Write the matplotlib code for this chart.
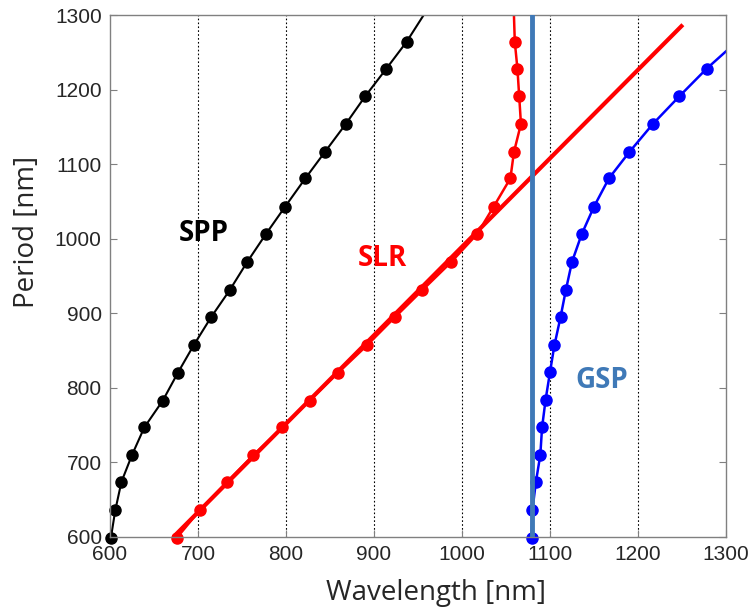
import matplotlib
matplotlib.use("Agg")
import matplotlib.pyplot as plt

# SPP branch (black); last point only extends the line to the top edge
spp_wl = [601, 606, 613, 625, 639, 660, 677, 695, 715, 736, 756, 777, 799, 822, 844, 868, 890, 914, 937, 957]
spp_p = [599, 636, 674, 710, 747, 783, 820, 857, 895, 931, 969, 1006, 1043, 1081, 1116, 1154, 1191, 1228, 1264, 1301]

# SLR branch (red, with markers)
slr_wl = [676, 702, 733, 763, 796, 827, 859, 892, 924, 955, 988, 1017, 1036, 1055, 1059, 1067, 1065, 1063, 1060, 1059]
slr_p = [599, 636, 674, 710, 747, 783, 820, 857, 895, 931, 969, 1006, 1043, 1081, 1116, 1154, 1191, 1228, 1264, 1301]

# Rayleigh line (red, straight)
ra_wl = [672, 1251]
ra_p = [600, 1287]

# GSP branch (blue); last point lies past the right edge
gsp_wl = [1079, 1080, 1084, 1089, 1091, 1095, 1100, 1105, 1112, 1118, 1125, 1136, 1150, 1167, 1190, 1217, 1247, 1278, 1312]
gsp_p = [598, 636, 674, 710, 747, 784, 821, 857, 895, 931, 969, 1006, 1043, 1081, 1116, 1154, 1191, 1228, 1264]

gsp_line = 1080

GSP_COLOR = "#3f79b7"
FONT = "Open Sans"
TICKFONT = "Liberation Sans"

fig = plt.figure(figsize=(7.52, 6.13), dpi=100)
ax = fig.add_axes([0.1463, 0.124, 0.8191, 0.8515])

ax.plot(spp_wl, spp_p, "-", color="black", lw=1.5)
ax.plot(spp_wl[:-1], spp_p[:-1], "o", color="black", ms=8, clip_on=False)

ax.plot(slr_wl, slr_p, "-", color="#ff0000", lw=1.8)
ax.plot(slr_wl[:-1], slr_p[:-1], "o", color="#ff0000", ms=8, clip_on=False)
ax.plot(ra_wl, ra_p, "-", color="#ff0000", lw=3, solid_capstyle="butt")

ax.plot(gsp_wl, gsp_p, "-", color="#0000ff", lw=1.8)
ax.plot(gsp_wl[:-1], gsp_p[:-1], "o", color="#0000ff", ms=8, clip_on=False)
ax.axvline(gsp_line, color=GSP_COLOR, lw=3.5, zorder=5)

ax.text(706, 1007, "SPP", color="black", fontsize=20, fontweight="bold",
        family=FONT, ha="center", va="center")
ax.text(910, 974, "SLR", color="#ff0000", fontsize=20, fontweight="bold",
        family=FONT, ha="center", va="center")
ax.text(1159, 810, "GSP", color=GSP_COLOR, fontsize=20, fontweight="bold",
        family=FONT, ha="center", va="center")

ax.set_xlim(600, 1300)
ax.set_ylim(600, 1300)
ax.set_xticks(range(600, 1301, 100))
ax.set_yticks(range(600, 1301, 100))
for x in range(700, 1201, 100):
    ax.axvline(x, color="black", lw=0.8, ls=(0, (1.5, 2)), zorder=0)

ax.tick_params(direction="in", length=5, color="#808080", labelsize=15,
               labelcolor="#262626", right=True, top=False, pad=6)
for lbl in ax.get_xticklabels() + ax.get_yticklabels():
    lbl.set_family(TICKFONT)
for sp in ax.spines.values():
    sp.set_color("#808080")
    sp.set_linewidth(1.0)

ax.set_xlabel("Wavelength [nm]", fontsize=20, family=FONT, color="#262626", va="center")
ax.set_ylabel("Period [nm]", fontsize=20, family=FONT, color="#262626", va="center")
ax.xaxis.set_label_coords(0.529, -0.107)
ax.yaxis.set_label_coords(-0.135, 0.584)

fig.savefig("out.png", dpi=100)
